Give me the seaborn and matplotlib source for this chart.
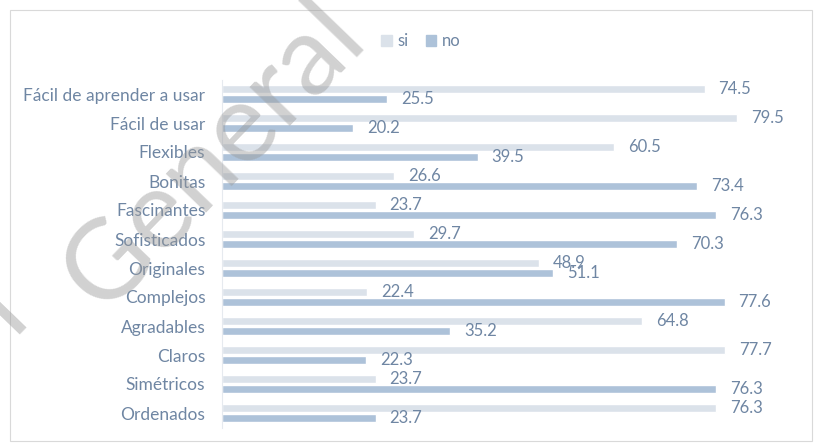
import matplotlib
matplotlib.use("Agg")
import matplotlib.pyplot as plt
import seaborn as sns
import pandas as pd
import numpy as np
from matplotlib.patches import Rectangle

categorias = ["Fácil de aprender a usar", "Fácil de usar", "Flexibles", "Bonitas",
              "Fascinantes", "Sofisticados", "Originales", "Complejos",
              "Agradables", "Claros", "Simétricos", "Ordenados"]
si = [74.5, 79.5, 60.5, 26.6, 23.7, 29.7, 48.9, 22.4, 64.8, 77.7, 23.7, 76.3]
no = [25.5, 20.2, 39.5, 73.4, 76.3, 70.3, 51.1, 77.6, 35.2, 22.3, 76.3, 23.7]
series = ["si", "no"]

df = pd.DataFrame({
    "categoria": categorias * 2,
    "valor": si + no,
    "respuesta": ["si"] * len(si) + ["no"] * len(no),
})

sns.set_theme(style="white")
plt.rcParams["font.family"] = ["Lato", "DejaVu Sans"]

TEXT = "#6f86a3"
palette = {"si": "#dbe2ea", "no": "#adc2d9"}

W, H = 814, 445
fig = plt.figure(figsize=(W / 100, H / 100), dpi=100)
ax = fig.add_axes([222 / W, 1 - 427.5 / H, 583 / W, 348 / H])

sns.barplot(data=df, y="categoria", x="valor", hue="respuesta", order=categorias,
            hue_order=series, palette=palette, orient="h", width=0.72, gap=0.28,
            saturation=1, legend=False, ax=ax)

for cont in ax.containers:
    ax.bar_label(cont, fmt="%.1f", padding=10, color=TEXT, fontsize=12)

ax.set_xlim(0, 90)
ax.set_ylim(len(categorias) - 0.5, -0.5)
ax.set_xlabel("")
ax.set_ylabel("")
ax.set_xticks([])
ax.tick_params(axis="y", length=0, pad=12, labelsize=12.5, labelcolor=TEXT)
for s in ["top", "right", "bottom"]:
    ax.spines[s].set_visible(False)
ax.spines["left"].set_color("#e6eaef")
ax.spines["left"].set_linewidth(0.8)

# legend at the top
handles = [Rectangle((0, 0), 1, 1, color=palette[s]) for s in series]
fig.legend(handles, series, loc="center", bbox_to_anchor=(421 / W, 1 - 41 / H),
           ncol=2, frameon=False, fontsize=12, handlelength=0.65, handleheight=0.65,
           handletextpad=0.35, columnspacing=1.0, labelcolor=TEXT)

# outer frame of the chart
fig.patches.append(Rectangle((10 / W, 1 - 441 / H), 802 / W, 431 / H,
                             transform=fig.transFigure, fill=False,
                             edgecolor="#d9d9d9", linewidth=0.8))

# diagonal watermark
ang = 46
g_origin = (103.0, 314.0)
l_origin = (12.0, 334.0)
wm = dict(rotation=ang, rotation_mode="anchor", ha="left", va="baseline",
          fontsize=80, color="#9a9a9a", alpha=0.45, zorder=10)
fig.text(g_origin[0] / W, 1 - g_origin[1] / H, "General", **wm)
fig.text(l_origin[0] / W, 1 - l_origin[1] / H, "l", **wm)

fig.savefig("out.png", dpi=100)
